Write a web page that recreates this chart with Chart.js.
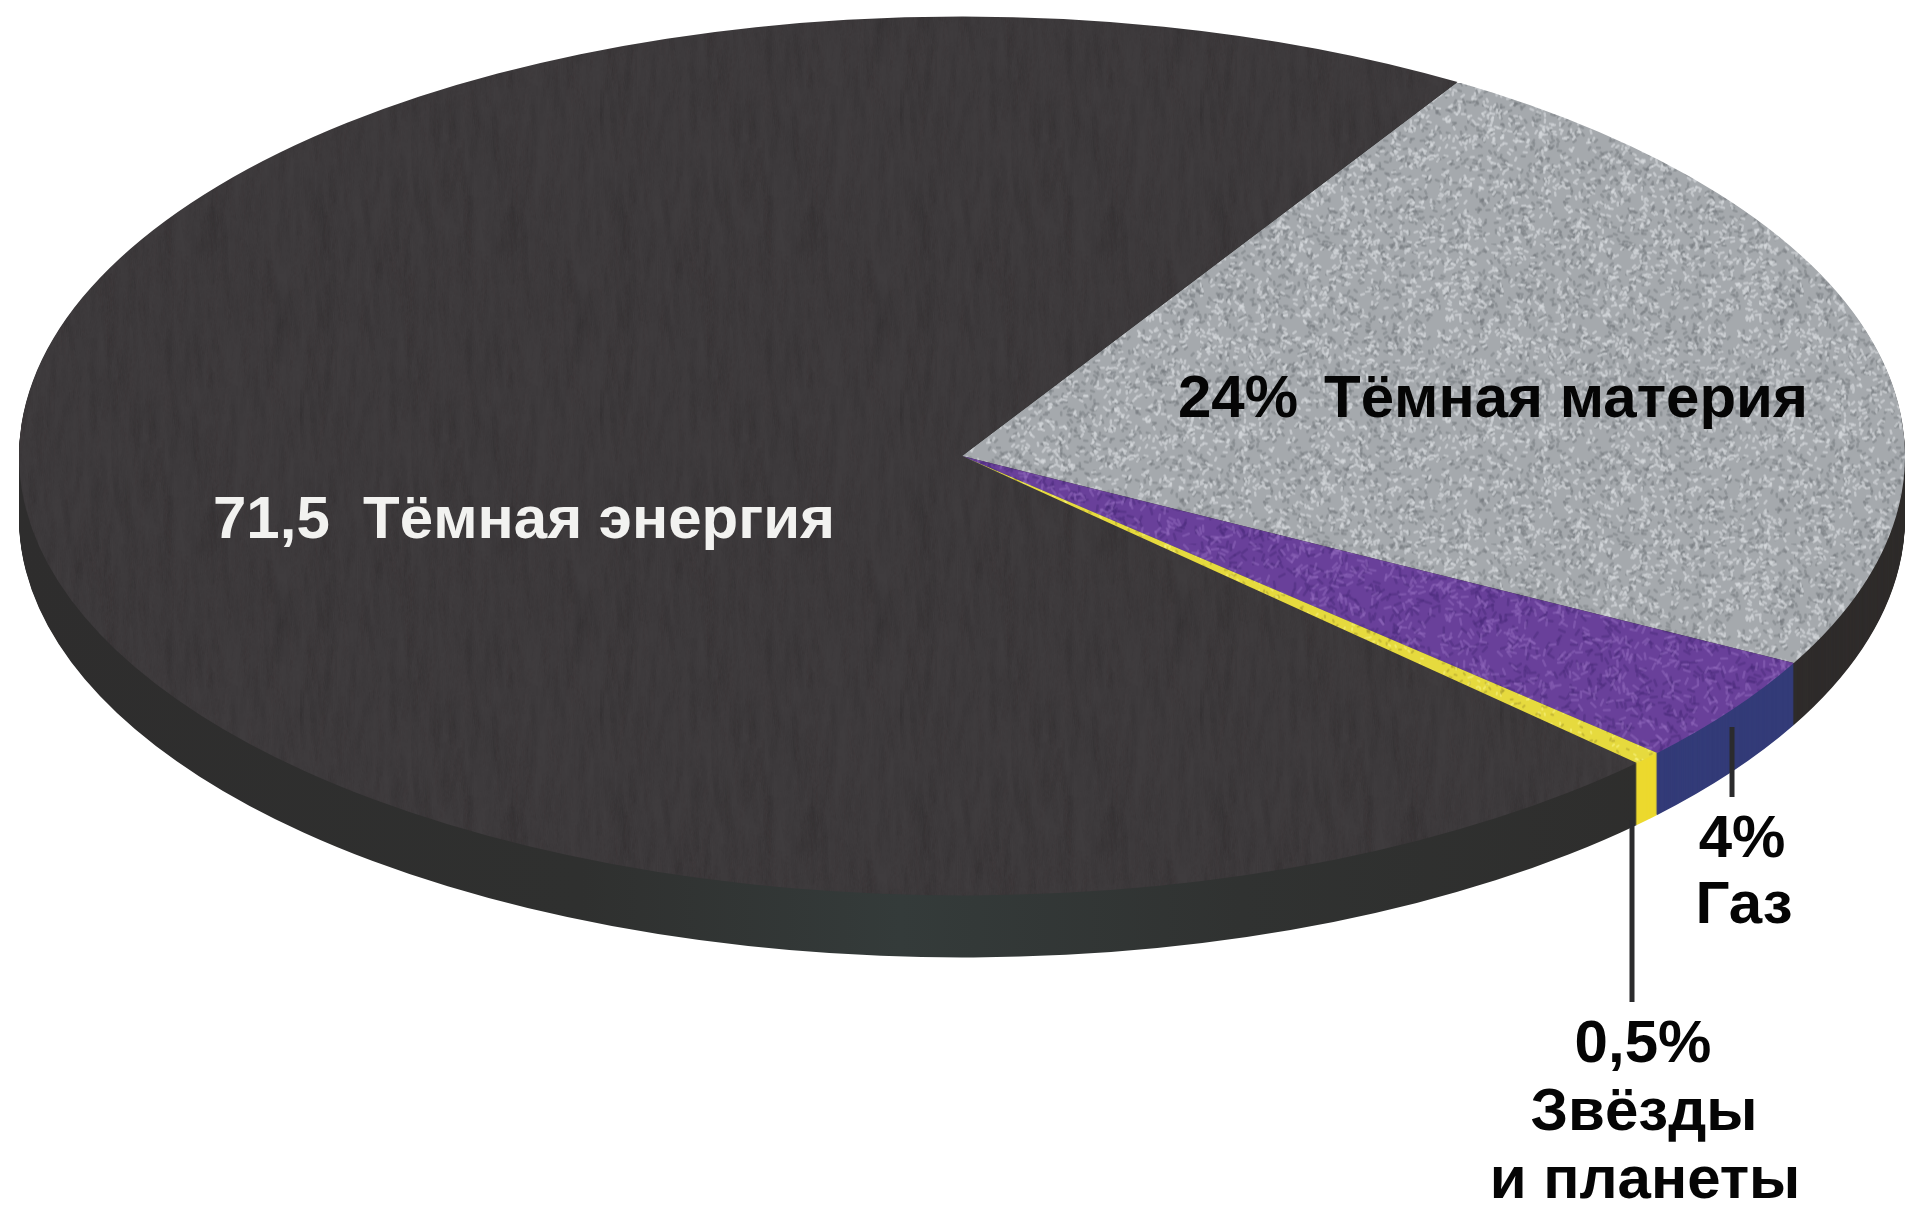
<!DOCTYPE html>
<html lang="ru">
<head>
<meta charset="utf-8">
<title>Состав Вселенной</title>
<script src="https://cdn.jsdelivr.net/npm/chart.js@4/dist/chart.umd.min.js"></script>
<style>
    html, body { margin: 0; padding: 0; background: #fff; }
    canvas { display: block; }
</style>
</head>
<body>
<canvas id="grafico" width="1905" height="1205"></canvas>
<script>
const categories = ['Тёмная материя', 'Газ', 'Звёзды и планеты', 'Тёмная энергия'];
const shares = [24, 4, 0.5, 71.5];
const shareLabels = ['24%', '4%', '0,5%', '71,5'];

const SQUASH = 0.466;
const DEPTH = 62;

const ctxMain = document.getElementById('grafico').getContext('2d');

// small deterministic hash for the surface grain, not used for any value
function hash(n) {
    const s = Math.sin(n * 127.1 + 311.7) * 43758.5453;
    return s - Math.floor(s);
}

function strokes(c, seed, count, color, len, width, steep) {
    c.strokeStyle = color;
    c.lineWidth = width;
    for (let i = 0; i < count; i++) {
        const x = hash(seed + i * 3 + 1) * 300;
        const y = hash(seed + i * 3 + 2) * 300;
        const a = steep ? Math.PI / 2 + (hash(seed + i * 3 + 3) - 0.5) * 0.4 : hash(seed + i * 3 + 3) * Math.PI * 2;
        // repeat over the tile edges so no seam shows
        c.beginPath();
        [[0, 0], [-300, 0], [0, -300], [-300, -300]].forEach(([ox, oy]) => {
            c.moveTo(x + ox, y + oy);
            c.lineTo(x + ox + Math.cos(a) * len, y + oy + Math.sin(a) * len);
        });
        c.stroke();
    }
}

function grainPattern(base, light, dark, count, len, width, blur, steep) {
    const tile = document.createElement('canvas');
    tile.width = 300;
    tile.height = 300;
    const c = tile.getContext('2d');
    c.fillStyle = base;
    c.fillRect(0, 0, 300, 300);
    c.lineCap = 'round';
    c.filter = 'blur(' + blur + 'px)';
    strokes(c, 10, count, dark, len, width, steep);
    strokes(c, 5000, count, light, len, width, steep);
    const pattern = ctxMain.createPattern(tile, 'repeat');
    // the pie is flattened afterwards, this keeps the grain round on screen
    pattern.setTransform(new DOMMatrix().scale(1, 1 / SQUASH));
    return pattern;
}

const sliceFills = [
    grainPattern('#a5a9ad', 'rgba(216,220,224,0.6)', 'rgba(116,120,124,0.45)', 1700, 3, 2.4, 0.5, false),
    grainPattern('#69409a', 'rgba(146,106,190,0.5)', 'rgba(74,42,122,0.45)', 1000, 6, 2.4, 0.7, false),
    grainPattern('#e6da3e', 'rgba(250,245,130,0.6)', 'rgba(150,135,40,0.4)', 1000, 2, 2, 0.5, false),
    grainPattern('#3f3c3e', 'rgba(72,68,70,0.08)', 'rgba(52,48,48,0.08)', 700, 40, 2, 1, true)
];

// rim of the big slice gets slightly greener towards the front
const darkRim = ctxMain.createLinearGradient(15, 0, 1900, 0);
darkRim.addColorStop(0, '#2e2d2d');
darkRim.addColorStop(0.3, '#2f302f');
darkRim.addColorStop(0.47, '#343b3a');
darkRim.addColorStop(0.65, '#303231');
darkRim.addColorStop(1, '#2d2b2a');
const rimColors = ['#2f2c2b', '#333b78', '#ecd92e', darkRim];

// flattens the pie around its centre and stacks the rim below it
const tiltedPie = {
    id: 'tiltedPie',
    beforeDatasetsDraw(chart) {
        const ctx = chart.ctx;
        const arcs = chart.getDatasetMeta(0).data;
        const cx = arcs[0].x;
        const cy = arcs[0].y;
        for (let d = DEPTH; d >= 1; d--) {
            ctx.save();
            ctx.translate(cx, cy + d);
            ctx.scale(1, SQUASH);
            ctx.translate(-cx, -cy);
            arcs.forEach((arc, i) => {
                const rim = Object.create(arc);
                rim.options = Object.assign({}, arc.options, { backgroundColor: rimColors[i] });
                rim.draw(ctx);
            });
            ctx.restore();
        }
        ctx.save();
        ctx.translate(cx, cy);
        ctx.scale(1, SQUASH);
        ctx.translate(-cx, -cy);
    },
    afterDatasetsDraw(chart) {
        chart.ctx.restore();
    }
};

const callouts = {
    id: 'callouts',
    afterDraw(chart) {
        const ctx = chart.ctx;
        ctx.save();
        ctx.strokeStyle = '#2b2b2d';
        ctx.lineWidth = 5;
        ctx.beginPath();
        ctx.moveTo(1732, 727);
        ctx.lineTo(1732, 797);
        ctx.moveTo(1632, 820);
        ctx.lineTo(1632, 1002);
        ctx.stroke();

        ctx.font = 'bold 60px "Liberation Sans", Arial, sans-serif';
        ctx.textBaseline = 'alphabetic';
        ctx.textAlign = 'left';
        ctx.fillStyle = '#f2f2f0';
        ctx.fillText(shareLabels[3] + '\u00a0\u00a0' + categories[3], 213, 538);
        ctx.fillStyle = '#050505';
        ctx.fillText(shareLabels[0], 1178, 417);
        ctx.fillText(categories[0], 1324, 417);
        ctx.textAlign = 'center';
        ctx.fillText(shareLabels[1], 1742, 857);
        ctx.fillText(categories[1], 1744, 923);
        ctx.fillText(shareLabels[2], 1643, 1062);
        ctx.fillText('Звёзды', 1644, 1130);
        ctx.fillText('и планеты', 1645, 1198);
        ctx.restore();
    }
};

new Chart(document.getElementById('grafico'), {
    type: 'pie',
    data: {
        labels: categories,
        datasets: [{
            data: shares,
            backgroundColor: sliceFills,
            borderWidth: 0,
            clip: false
        }]
    },
    options: {
        responsive: false,
        animation: false,
        rotation: 31.7,
        radius: 943,
        layout: { padding: { left: 19, bottom: 293 } },
        plugins: {
            legend: { display: false },
            tooltip: { enabled: false }
        }
    },
    plugins: [tiltedPie, callouts]
});
</script>
</body>
</html>
